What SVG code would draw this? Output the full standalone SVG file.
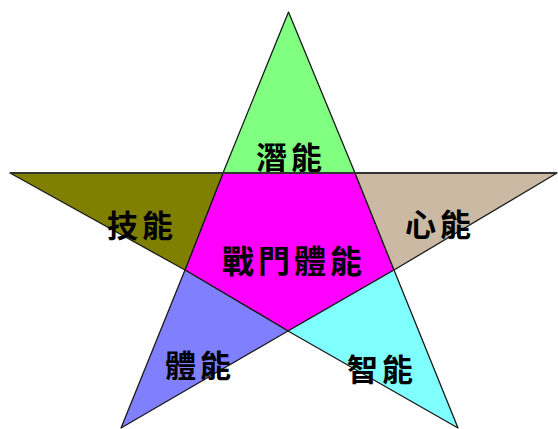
<svg xmlns="http://www.w3.org/2000/svg" width="558" height="429" viewBox="0 0 558 429">
<style>
.p{stroke:#1a1a1a;stroke-width:1.3;stroke-linejoin:round}
.t{font-family:"Noto Sans CJK TC","Noto Sans CJK SC",sans-serif;font-weight:bold;fill:#000;text-anchor:middle;dominant-baseline:central}
.s{font-size:31px;letter-spacing:4px}
.c{font-size:32px;letter-spacing:4px}
</style>
<rect width="558" height="429" fill="#fff"/>
<g id="center"><polygon class="p" points="223,173 355,173 394,270 288,331 185,270" fill="#ff00ff"/><text class="t c" x="294" y="259">戰門體能</text></g>
<g id="top"><polygon class="p" points="288.5,12 355,173 223,173" fill="#80ff80"/><text class="t s" x="291" y="155">潛能</text></g>
<g id="left"><polygon class="p" points="10,173 223,173 185,270" fill="#808000"/><text class="t s" x="142" y="223">技能</text></g>
<g id="right"><polygon class="p" points="355,173 557,173 394,270" fill="#cbb9a3"/><text class="t s" x="440" y="222">心能</text></g>
<g id="bottomleft"><polygon class="p" points="185,270 288,331 121,428" fill="#8080ff"/><text class="t s" x="200" y="363">體能</text></g>
<g id="bottomright"><polygon class="p" points="288,331 394,270 458,428" fill="#80ffff"/><text class="t s" x="382" y="367">智能</text></g>
<g id="connectors"><line x1="10" y1="173" x2="557" y2="173" stroke="#333" stroke-width="2"/></g>
</svg>
